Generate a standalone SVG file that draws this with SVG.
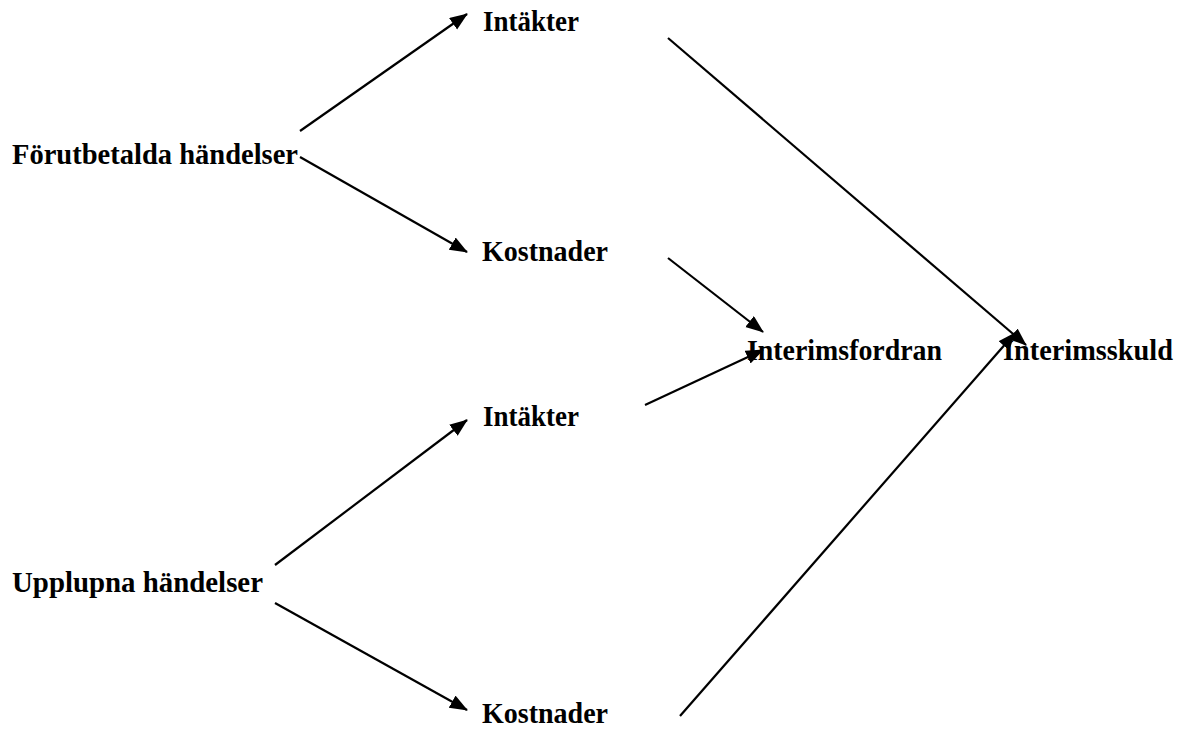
<svg xmlns="http://www.w3.org/2000/svg" width="1184" height="729" viewBox="0 0 1184 729">
<style>
.lbl{font-family:"Liberation Serif","Times New Roman",serif;font-weight:bold;font-size:29px;fill:#000}
.edge{stroke:#000;stroke-width:2.2;fill:none}
</style>
<defs>
<marker id="ah" markerUnits="userSpaceOnUse" markerWidth="20" markerHeight="16" refX="17" refY="7" orient="auto">
<path d="M0,0 L18,7 L0,14 Z" fill="#000"/>
</marker>
</defs>
<rect width="1184" height="729" fill="#fff"/>
<g id="connectors">
<line class="edge" x1="300" y1="131" x2="467" y2="14" marker-end="url(#ah)"/>
<line class="edge" x1="300" y1="157" x2="467" y2="252" marker-end="url(#ah)"/>
<line class="edge" x1="668" y1="38" x2="1026" y2="345" marker-end="url(#ah)"/>
<line class="edge" x1="668" y1="258" x2="763" y2="332" marker-end="url(#ah)"/>
<line class="edge" x1="645" y1="405" x2="763" y2="350" marker-end="url(#ah)"/>
<line class="edge" x1="275" y1="565" x2="467" y2="420" marker-end="url(#ah)"/>
<line class="edge" x1="275" y1="603" x2="467" y2="710" marker-end="url(#ah)"/>
<line class="edge" x1="680" y1="716" x2="1015" y2="333" marker-end="url(#ah)"/>
</g>
<g id="forutbetalda"><text class="lbl" x="12" y="164" textLength="286" lengthAdjust="spacingAndGlyphs">Förutbetalda händelser</text></g>
<g id="intakter1"><text class="lbl" x="483" y="31" textLength="96" lengthAdjust="spacingAndGlyphs">Intäkter</text></g>
<g id="kostnader1"><text class="lbl" x="482" y="261" textLength="126" lengthAdjust="spacingAndGlyphs">Kostnader</text></g>
<g id="interimsfordran"><text class="lbl" x="747" y="360" textLength="195" lengthAdjust="spacingAndGlyphs">Interimsfordran</text></g>
<g id="interimsskuld"><text class="lbl" x="1003" y="360" textLength="170" lengthAdjust="spacingAndGlyphs">Interimsskuld</text></g>
<g id="intakter2"><text class="lbl" x="483" y="426" textLength="96" lengthAdjust="spacingAndGlyphs">Intäkter</text></g>
<g id="upplupna"><text class="lbl" x="12" y="592" textLength="251" lengthAdjust="spacingAndGlyphs">Upplupna händelser</text></g>
<g id="kostnader2"><text class="lbl" x="482" y="723" textLength="126" lengthAdjust="spacingAndGlyphs">Kostnader</text></g>
</svg>
